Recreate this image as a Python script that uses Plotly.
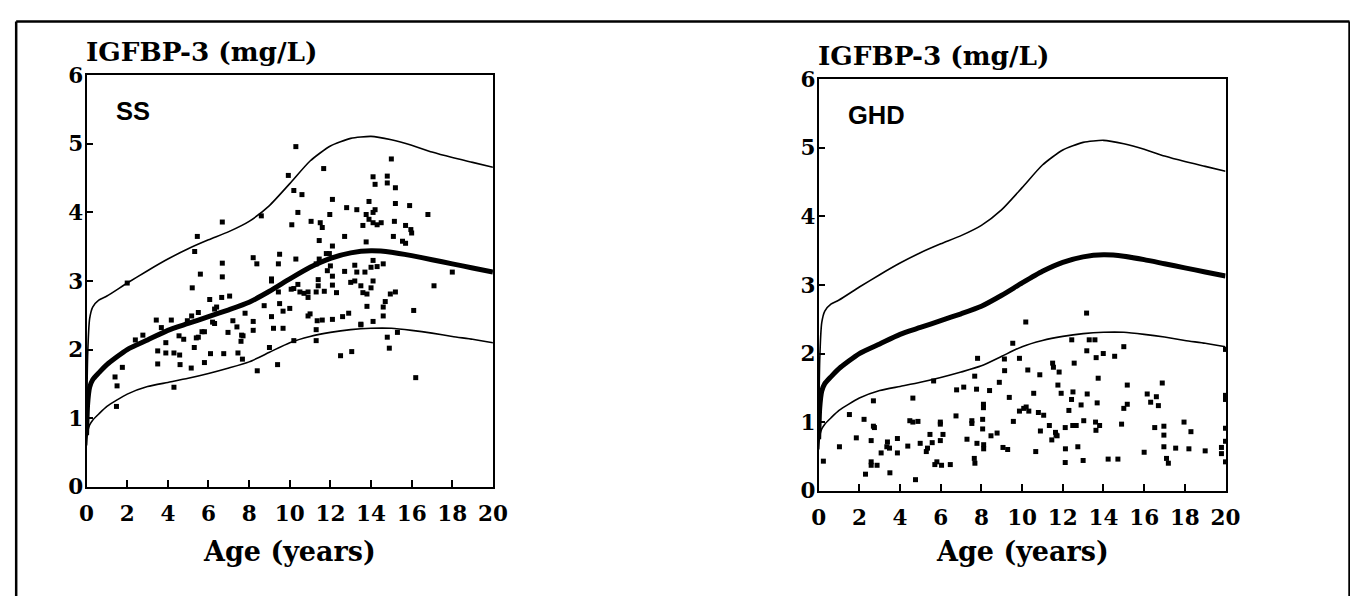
import plotly.graph_objects as go

# the figure sits at (8, 8) on the page; the photo of the page comes out slightly shrunk,
# so positions are given in picture pixels and mapped back to page pixels below
OX, OY = 8, 8
W, H = 1358, 601
SX, DX = 0.983, 7.6
SY, DY = 0.96, 12.9

# reference curves (same in both panels)
curve_age = [0, 0.05, 0.15, 0.3, 0.6, 1, 2, 3, 4, 5, 6, 7, 8, 9, 10, 11, 12, 13, 14, 15, 16, 17, 18, 19, 20]
upper = [0.8, 1.9, 2.45, 2.62, 2.72, 2.78, 2.97, 3.15, 3.32, 3.47, 3.6, 3.72, 3.87, 4.1, 4.42, 4.75, 4.97,
         5.08, 5.11, 5.06, 4.98, 4.88, 4.8, 4.73, 4.66]
median = [0.75, 1.2, 1.45, 1.56, 1.66, 1.78, 2.0, 2.14, 2.28, 2.38, 2.48, 2.58, 2.69, 2.85, 3.03, 3.2, 3.33,
          3.41, 3.44, 3.42, 3.37, 3.31, 3.25, 3.19, 3.13]
lower = [0.6, 0.8, 0.9, 0.97, 1.06, 1.17, 1.35, 1.46, 1.52, 1.58, 1.65, 1.73, 1.82, 1.96, 2.1, 2.19, 2.25,
         2.29, 2.31, 2.31, 2.28, 2.24, 2.19, 2.15, 2.1]

# SS patients (age, IGFBP-3)
ss_points = [
    (10.3, 4.96), (15.0, 4.78), (11.67, 4.64), (9.93, 4.54), (14.1, 4.52), (14.8, 4.53), (14.2, 4.41),
    (14.8, 4.43), (15.2, 4.36), (10.2, 4.32), (10.6, 4.26), (12.1, 4.19), (13.9, 4.16), (12.8, 4.07),
    (13.3, 4.04), (15.2, 4.13), (15.9, 4.10), (16.8, 3.97), (14.2, 4.04), (14.1, 4.0), (10.4, 4.0),
    (11.97, 3.97), (6.68, 3.86), (8.6, 3.95), (10.1, 3.82), (11.05, 3.87), (11.5, 3.85), (11.6, 3.78),
    (13.76, 3.97), (13.9, 3.9), (14.1, 3.85), (14.3, 3.82), (14.5, 3.85), (13.6, 3.81), (15.15, 3.87),
    (15.7, 3.81), (15.96, 3.75), (16.0, 3.70), (5.45, 3.65), (5.32, 3.43), (12.7, 3.65), (11.45, 3.59),
    (15.1, 3.65), (13.76, 3.57), (15.55, 3.58), (15.7, 3.55), (12.1, 3.51), (11.8, 3.40), (11.95, 3.40),
    (8.2, 3.34), (9.5, 3.39), (10.3, 3.32), (8.38, 3.25), (9.44, 3.25), (6.68, 3.26), (6.68, 3.06),
    (5.6, 3.1), (11.45, 3.32), (11.3, 3.25), (12.0, 3.22), (11.85, 3.15), (12.7, 3.14), (13.2, 3.23),
    (13.3, 3.13), (13.7, 3.13), (14.0, 3.2), (14.1, 3.3), (14.3, 3.21), (14.6, 3.25), (18.0, 3.13),
    (17.1, 2.93), (16.1, 2.57), (9.1, 3.03), (9.1, 3.0), (9.44, 2.84), (10.07, 2.88), (10.2, 2.89),
    (10.4, 2.95), (10.5, 2.84), (10.9, 2.84), (10.9, 2.76), (11.3, 2.84), (11.4, 2.93), (11.4, 3.02),
    (11.7, 2.85), (12.3, 2.83), (12.1, 2.94), (12.1, 3.07), (13.0, 2.98), (13.2, 3.0), (13.5, 2.93),
    (13.6, 2.83), (13.8, 2.81), (14.0, 2.90), (14.1, 3.0), (13.8, 2.63), (14.6, 2.62), (14.7, 2.70),
    (15.2, 2.84), (14.95, 2.81), (10.7, 2.82), (5.2, 2.9), (6.06, 2.73), (6.4, 2.62), (6.65, 2.76),
    (7.04, 2.78), (8.74, 2.64), (9.5, 2.67), (9.67, 2.56), (10.0, 2.60), (6.3, 2.59), (2.0, 2.97),
    (14.6, 2.49), (14.8, 2.18), (14.9, 2.02), (15.3, 2.25), (16.2, 1.59), (13.05, 1.97), (12.5, 1.91),
    (13.5, 2.37), (14.1, 2.41), (12.9, 2.53), (12.6, 2.48), (12.1, 2.44), (11.6, 2.43), (11.3, 2.29),
    (11.3, 2.13), (11.0, 2.52), (10.2, 2.13), (9.67, 2.31), (9.1, 2.48), (9.2, 2.31), (9.0, 2.03),
    (9.4, 1.78), (8.2, 2.41), (8.2, 2.28), (8.4, 1.69), (7.8, 2.53), (7.7, 2.2), (7.45, 1.95),
    (7.67, 1.86), (7.4, 2.33), (7.2, 2.42), (6.96, 2.25), (6.75, 1.94), (6.1, 1.94), (6.2, 2.4),
    (5.8, 2.26), (5.8, 1.81), (5.5, 2.54), (5.5, 2.18), (5.3, 2.03), (5.15, 1.73), (4.78, 2.15),
    (4.58, 1.92), (4.3, 1.95), (3.9, 1.95), (3.5, 1.98), (3.5, 1.79), (3.9, 2.1), (3.68, 2.32),
    (4.17, 2.43), (3.43, 2.43), (4.55, 2.2), (4.6, 1.78), (4.3, 1.45), (2.77, 2.21), (2.4, 2.14),
    (1.76, 1.74), (1.4, 1.6), (1.5, 1.47), (1.47, 1.17), (10.9, 2.49), (11.35, 2.42), (13.5, 2.36),
    (4.96, 2.42), (5.17, 2.49), (5.4, 2.17), (5.68, 2.26), (7.63, 2.21), (7.6, 2.12), (6.3, 2.38),
]

# GHD patients (age, IGFBP-3)
ghd_points = [
    (13.17, 2.59), (10.18, 2.46), (12.44, 2.20), (13.3, 2.20), (13.58, 2.20), (9.54, 2.15), (15.0, 2.10),
    (13.18, 2.04), (20.0, 2.06), (13.99, 2.0), (13.64, 1.94), (14.55, 1.96), (7.81, 1.93), (9.13, 1.92),
    (9.87, 1.93), (11.5, 1.86), (11.54, 1.80), (11.82, 1.73), (9.14, 1.75), (10.28, 1.76), (13.74, 1.64),
    (7.67, 1.67), (5.65, 1.60), (8.88, 1.58), (12.56, 1.86), (10.87, 1.69), (15.17, 1.54), (11.76, 1.54),
    (16.89, 1.57), (6.78, 1.47), (7.13, 1.51), (7.76, 1.48), (8.4, 1.46), (9.37, 1.36), (11.92, 1.42),
    (12.5, 1.44), (13.2, 1.41), (10.57, 1.42), (16.15, 1.41), (16.6, 1.37), (20.0, 1.39), (20.0, 1.33),
    (2.69, 1.31), (4.63, 1.35), (12.43, 1.33), (13.69, 1.28), (12.9, 1.25), (16.32, 1.29), (16.7, 1.24),
    (8.1, 1.26), (8.1, 1.21), (15.17, 1.26), (15.0, 1.20), (12.3, 1.17), (10.08, 1.2), (9.87, 1.16),
    (10.2, 1.22), (10.33, 1.16), (10.8, 1.14), (11.06, 1.10), (1.51, 1.11), (6.75, 1.09), (2.23, 1.04),
    (2.69, 0.94), (2.74, 0.92), (4.48, 1.02), (4.63, 1.0), (4.88, 1.01), (5.98, 1.0), (5.98, 0.97),
    (7.53, 1.02), (7.53, 0.98), (8.06, 1.04), (8.06, 0.90), (9.57, 1.01), (10.9, 0.87), (11.34, 0.95),
    (11.64, 0.85), (11.72, 0.80), (12.12, 0.92), (12.49, 0.95), (12.66, 0.95), (13.03, 1.02), (13.61, 1.0),
    (13.63, 0.88), (13.81, 0.95), (14.89, 0.97), (16.52, 0.92), (16.97, 0.94), (16.97, 0.81), (17.96, 1.0),
    (18.3, 0.86), (20.0, 0.91), (1.85, 0.77), (2.58, 0.73), (3.38, 0.71), (3.35, 0.64), (3.87, 0.76),
    (3.48, 0.62), (4.38, 0.65), (4.99, 0.69), (5.29, 0.57), (5.35, 0.62), (5.47, 0.82), (5.58, 0.70),
    (5.98, 0.73), (6.11, 0.82), (7.29, 0.75), (7.78, 0.69), (8.11, 0.67), (8.11, 0.61), (8.47, 0.80),
    (8.77, 0.84), (9.06, 0.63), (9.29, 0.60), (10.67, 0.57), (11.46, 0.74), (11.67, 0.81), (12.13, 0.61),
    (12.12, 0.41), (12.74, 0.64), (13.0, 0.44), (14.23, 0.46), (14.71, 0.46), (16.0, 0.56), (16.97, 0.64),
    (17.1, 0.47), (17.19, 0.40), (17.55, 0.62), (18.2, 0.61), (19.0, 0.58), (19.8, 0.63), (19.8, 0.54),
    (20.0, 0.72), (20.0, 0.42), (1.02, 0.64), (0.23, 0.43), (2.3, 0.24), (2.58, 0.42), (2.58, 0.37),
    (2.87, 0.37), (3.07, 0.55), (3.5, 0.26), (3.87, 0.55), (4.76, 0.16), (5.71, 0.38), (5.81, 0.42),
    (6.04, 0.37), (6.47, 0.38), (7.65, 0.47), (7.68, 0.40),
]

x_ticks = [0, 2, 4, 6, 8, 10, 12, 14, 16, 18, 20]
y_ticks = [0, 1, 2, 3, 4, 5, 6]


# picture pixel -> paper fraction
def px(x):
    return ((x - DX) / SX - OX) / W


def py(y):
    return 1 - ((y - DY) / SY - OY) / H


fig = go.Figure()

panels = [
    ("x", "y", ss_points),
    ("x2", "y2", ghd_points),
]

for xa, ya, pts in panels:
    fig.add_trace(go.Scatter(x=curve_age, y=upper, mode="lines", line=dict(color="black", width=1.6, shape="spline", smoothing=0.6),
                             xaxis=xa, yaxis=ya, showlegend=False))
    fig.add_trace(go.Scatter(x=curve_age, y=lower, mode="lines", line=dict(color="black", width=1.6, shape="spline", smoothing=0.6),
                             xaxis=xa, yaxis=ya, showlegend=False))
    fig.add_trace(go.Scatter(x=curve_age, y=median, mode="lines", line=dict(color="black", width=5, shape="spline", smoothing=0.6),
                             xaxis=xa, yaxis=ya, showlegend=False))
    fig.add_trace(go.Scatter(x=[p[0] for p in pts], y=[p[1] for p in pts], mode="markers",
                             marker=dict(symbol="square", size=5, color="black", line=dict(width=0)),
                             cliponaxis=False, xaxis=xa, yaxis=ya, showlegend=False))

tickfont = dict(family="DejaVu Serif", size=21.5, color="black", weight="bold")
xcommon = dict(range=[0, 20], tickvals=x_ticks, ticks="inside", ticklen=7, tickwidth=1.5, tickcolor="black",
               showline=True, linecolor="black", linewidth=2, mirror=True, showgrid=False, zeroline=False,
               tickfont=tickfont, ticklabelstandoff=7, fixedrange=True)
ycommon = dict(range=[0, 6], tickvals=y_ticks, ticks="inside", ticklen=6, tickwidth=1.5, tickcolor="black",
               showline=True, linecolor="black", linewidth=2, mirror=True, showgrid=False, zeroline=False,
               tickfont=tickfont, ticklabelstandoff=-3, fixedrange=True)

# panel boxes in picture pixels (left, right, top, bottom)
left_box = (87, 493, 76, 488)
right_box = (818.5, 1225, 80, 492)

fig.update_layout(
    width=W, height=H,
    margin=dict(l=0, r=0, t=0, b=0),
    paper_bgcolor="white", plot_bgcolor="white",
    xaxis=dict(domain=[px(left_box[0]), px(left_box[1])], anchor="y", **xcommon),
    yaxis=dict(domain=[py(left_box[3]), py(left_box[2])], anchor="x", **ycommon),
    xaxis2=dict(domain=[px(right_box[0]), px(right_box[1])], anchor="y2", **xcommon),
    yaxis2=dict(domain=[py(right_box[3]), py(right_box[2])], anchor="x2", **ycommon),
)

# outer frame: left, top and right sides, running to the bottom of the figure
frame_l, frame_r, frame_t = 1.2 / W, 1 - 1.5 / W, 1 - 1.5 / H
for x0, y0, x1, y1 in [(frame_l, 0, frame_l, frame_t), (frame_l, frame_t, frame_r, frame_t), (frame_r, frame_t, frame_r, 0)]:
    fig.add_shape(type="line", xref="paper", yref="paper", x0=x0, y0=y0, x1=x1, y1=y1,
                  line=dict(color="black", width=2.5))

ann = []
for box, label in [(left_box, "SS"), (right_box, "GHD")]:
    x0, x1, y0, y1 = box
    ann.append(dict(text="IGFBP-3 (mg/L)", x=px(x0 - 3), y=py(y0 - 6), xref="paper", yref="paper",
                    xanchor="left", yanchor="bottom", showarrow=False,
                    font=dict(family="DejaVu Serif", size=26.3, color="black", weight="bold")))
    ann.append(dict(text=label, x=px(x0 + 27), y=py(y0 + 36), xref="paper", yref="paper",
                    xanchor="left", yanchor="middle", showarrow=False,
                    font=dict(family="Liberation Sans", size=25.5, color="black", weight="bold")))
    ann.append(dict(text="Age (years)", x=px((x0 + x1) / 2), y=py(553), xref="paper", yref="paper",
                    xanchor="center", yanchor="middle", showarrow=False,
                    font=dict(family="DejaVu Serif", size=27, color="black", weight="bold")))
fig.update_layout(annotations=ann)

fig.write_html("out.html")
